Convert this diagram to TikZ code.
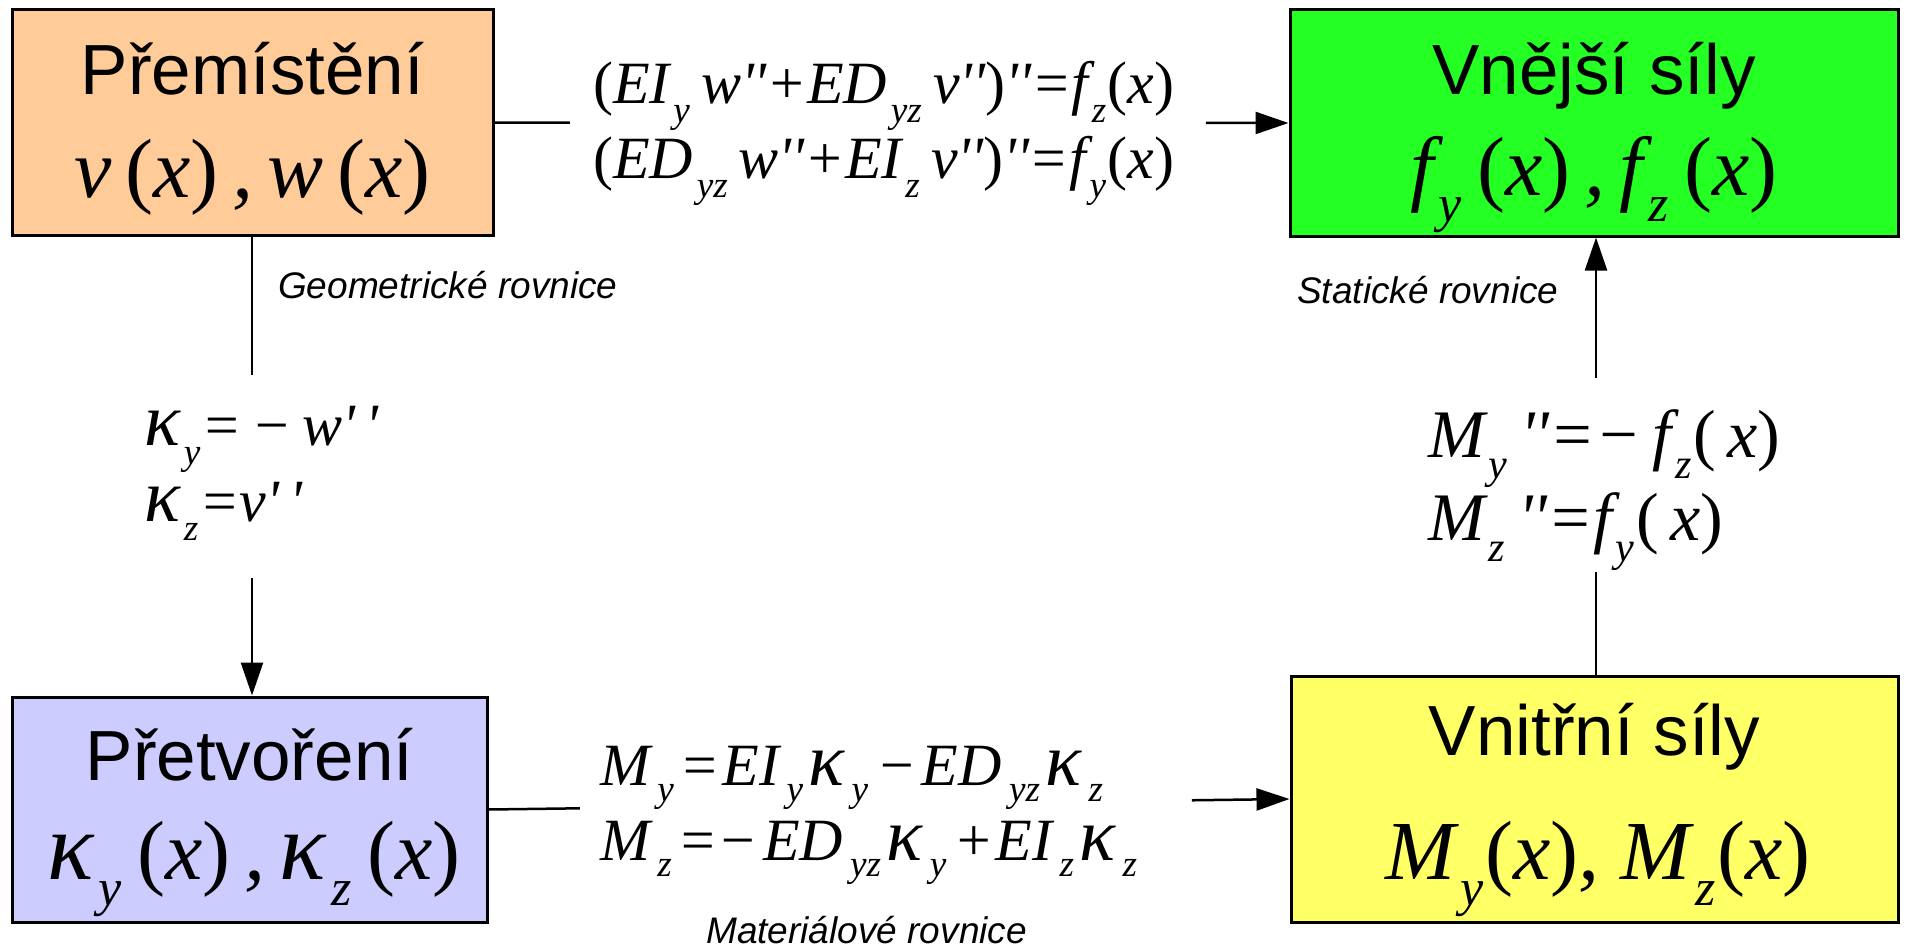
\documentclass[tikz,border=0pt]{standalone}
\usepackage{fontspec}
\usepackage{graphicx}
\setmainfont{Liberation Sans}
\newfontfamily\eqfont{Liberation Serif}
\usetikzlibrary{arrows.meta,calc}
\definecolor{boxorange}{RGB}{255,204,153}
\definecolor{boxgreen}{RGB}{36,255,36}
\definecolor{boxblue}{RGB}{204,204,255}
\definecolor{boxyellow}{RGB}{255,255,102}
\newcommand\sbs[1]{\kern0.06em\raisebox{-0.32em}{\scalebox{0.62}{#1}}\kern0.02em}
\newcommand\sbw[1]{\kern0.12em\raisebox{-0.28em}{\scalebox{0.62}{#1}}\kern0.09em}
\newcommand\lpr{{\upshape(}}
\newcommand\rpr{{\upshape)}}
\newcommand\pr{\textquotesingle}
\newcommand\mnus{\symbol{"2212}}
\newcommand\kap{\scalebox{1.25}{κ}}
\newcommand\kab{\scalebox{1.15}{κ}}
\begin{document}
\begin{tikzpicture}[x=1pt,y=-1pt,
  blk/.style={draw=black, line width=3pt, inner sep=0pt},
  ttl/.style={font={\fontsize{71}{84}\selectfont}, anchor=base, inner sep=0pt},
  bmath/.style={font={\eqfont\itshape\fontsize{84}{100}\selectfont}, anchor=base, inner sep=0pt},
  eqn/.style={font={\eqfont\itshape\fontsize{60}{72}\selectfont}, anchor=base west, inner sep=0pt},
  eqbig/.style={eqn, font={\eqfont\itshape\fontsize{68}{80}\selectfont}},
  lbl/.style={font={\itshape\fontsize{37}{44}\selectfont}, anchor=base west, inner sep=0pt},
  ln/.style={line width=2.5pt},
  arr/.style={ln, -{Triangle[length=33pt,width=22pt]}}]
\useasboundingbox (0,0) rectangle (1910,947);
% boxes
\node[blk, fill=boxorange, minimum width=481pt, minimum height=225pt] (disp) at (252.5,122.5) {};
\node[blk, fill=boxgreen, minimum width=608pt, minimum height=226pt] (ext) at (1594,123) {};
\node[blk, fill=boxblue, minimum width=475pt, minimum height=225pt] (strain) at (249.5,809.5) {};
\node[blk, fill=boxyellow, minimum width=607pt, minimum height=246pt] (int) at (1594.5,799) {};
% box texts
\node[ttl] (dispT) at (252.5,95) {Přemístění};
\node[bmath] (dispM) at (252.5,197) {v\,\lpr x\rpr\,,\,w\,\lpr x\rpr};
\node[ttl] (extT) at (1594,95) {Vnější síly};
\node[bmath] (extM) at (1594,195) {f\sbs{y}\,\lpr x\rpr\,,\,f\sbs{z}\,\lpr x\rpr};
\node[ttl] (strainT) at (249.5,780) {Přetvoření};
\node[bmath] (strainM) at (254,879) {\kab\sbs{y}\,\lpr x\rpr\,,\,\kab\sbs{z}\,\lpr x\rpr};
\node[ttl] (intT) at (1594.5,755) {Vnitřní síly};
\node[bmath] (intM) at (1598,879) {M\sbs{y}\lpr x\rpr, M\sbs{z}\lpr x\rpr};
% equations
\node[eqn] (top1) at (593,103) {\lpr EI\sbs{y}\,w\pr\pr+ED\sbs{yz}\,v\pr\pr\rpr\pr\pr=f\sbs{z}\lpr x\rpr};
\node[eqn] (top2) at (593,178) {\lpr ED\sbs{yz}\,w\pr\pr+EI\sbs{z}\,v\pr\pr\rpr\pr\pr=f\sbs{y}\lpr x\rpr};
\node[eqn] (kap1) at (144,445) {\kap\sbs{y}=\,\mnus\,w\pr\,\pr};
\node[eqn] (kap2) at (144,521) {\kap\sbs{z}=v\pr\,\pr};
\node[eqbig] (mom1) at (1428,457) {M\sbs{y}\,\pr\pr=\mnus\,f\sbs{z}\lpr\,x\rpr};
\node[eqbig] (mom2) at (1428,540) {M\sbs{z}\,\pr\pr=f\sbs{y}\lpr\,x\rpr};
\node[eqn] (mat1) at (600,785) {M\sbw{y}=\kern0.05em EI\sbw{y}\kap\sbw{y}\kern0.05em\mnus\kern0.08em ED\sbw{yz}\kap\sbw{z}};
\node[eqn] (mat2) at (600,860) {M\sbw{z}=\mnus\kern0.08em ED\sbw{yz}\kap\sbw{y}\kern0.03em+\kern0.03em EI\sbw{z}\kap\sbw{z}};
% labels
\node[lbl] (geoL) at (278,298) {Geometrické rovnice};
\node[lbl] (statL) at (1297,303) {Statické rovnice};
\node[lbl] (matL) at (706,943) {Materiálové rovnice};
% connectors
\coordinate (t1) at ($(disp.east)!0.095!(ext.west)$);
\coordinate (t2) at ($(disp.east)!0.896!(ext.west)$);
\draw[ln] (disp.east) -- (t1);
\draw[arr] (t2) -- (ext.west);
\coordinate (l1) at (252,375);
\coordinate (l2) at (252,578);
\draw[ln] (disp.south -| l1) -- (l1);
\draw[arr] (l2) -- (l2 |- strain.north);
\coordinate (r1) at (1596,572);
\coordinate (r2) at (1596,378);
\draw[ln] (r1 |- int.north) -- (r1);
\draw[arr] (r2) -- (r2 |- ext.south);
\coordinate (b1) at ($(strain.east)!0.114!(int.west)$);
\coordinate (b2) at ($(strain.east)!0.878!(int.west)$);
\draw[ln] (strain.east) -- (b1);
\draw[arr] (b2) -- (int.west);
\end{tikzpicture}
\end{document}
